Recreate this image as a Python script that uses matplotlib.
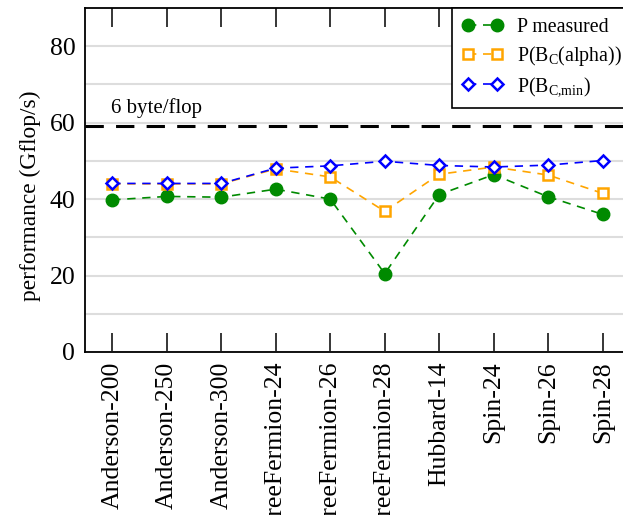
import numpy as np
import matplotlib
matplotlib.use("Agg")
import matplotlib.pyplot as plt

plt.rcParams['font.family'] = ['Liberation Serif', 'DejaVu Serif']
plt.rcParams['mathtext.fontset'] = 'custom'
plt.rcParams['mathtext.rm'] = 'Liberation Serif'
plt.rcParams['mathtext.it'] = 'Liberation Serif'

# === data ===
cases = ["Anderson-200", "Anderson-250", "Anderson-300", "FreeFermion-24",
         "FreeFermion-26", "FreeFermion-28", "Hubbard-14", "Spin-24",
         "Spin-26", "Spin-28"]
p_measured = [39.8, 40.7, 40.5, 42.6, 40.0, 20.5, 41.2, 46.4, 40.6, 36.0]
p_bc_alpha = [44.0, 44.0, 44.0, 47.9, 45.8, 36.8, 46.5, 48.4, 46.3, 41.5]
p_bc_min = [44.1, 44.1, 44.1, 48.1, 48.7, 49.9, 48.8, 48.4, 48.9, 50.1]
roofline = 59.0
roofline_label = "6 byte/flop"

x = np.arange(len(cases))

fig = plt.figure(figsize=(6.23, 5.15), dpi=100)
# right spine sits just outside the picture, as in the reference
ax = fig.add_axes([85/623, 1-352/515, 545/623, 344/515])

ax.plot(x, p_measured, '--o', color='#008a00', lw=1.2, ms=9,
        dashes=(5, 4), label='P measured')
ax.plot(x, p_bc_alpha, '--s', color='#ffa500', lw=1.2, ms=7.5, mfc='white',
        mew=1.8, dashes=(5, 4), label=r'P(B$_\mathrm{C}$(alpha))')
ax.plot(x, p_bc_min, '--D', color='#0000ff', lw=1.2, ms=6.5, mfc='white',
        mew=1.8, dashes=(5, 4), label=r'P(B$_\mathrm{C{,}min}$)')

ax.axhline(roofline, color='black', lw=2.2, dashes=(6, 4), zorder=1)
ax.text(-0.02, roofline + 4.8, roofline_label, fontsize=15, va='center', ha='left')

ax.set_xlim(-0.5, 9.5)
ax.set_ylim(0, 90)
ax.set_yticks([0, 20, 40, 60, 80])
ax.set_yticks(np.arange(10, 90, 20), minor=True)
ax.grid(axis='y', which='both', color='#dddddd', lw=1.5, zorder=0)
ax.set_axisbelow(True)

ax.set_xticks(x)
ax.set_xticklabels(cases, rotation=90, fontsize=18.5)
ax.tick_params(axis='x', direction='in', length=13.7, width=1.1, top=True,
               pad=7, color='black')
ax.tick_params(axis='y', which='both', length=0, labelsize=18.5, pad=7)
ax.set_ylabel("performance (Gflop/s)", fontsize=16.8)
ax.yaxis.set_label_coords(41/623, 1-196/515, transform=fig.transFigure)

for s in ax.spines.values():
    s.set_linewidth(1.3)

# legend box runs past the right edge of the picture
leg = ax.legend(loc='upper left', bbox_to_anchor=(452/623, 1-8/515, 200/623, 0),
                bbox_transform=fig.transFigure, mode='expand', fontsize=14.3,
                frameon=True, fancybox=False, edgecolor='black', framealpha=1,
                numpoints=2, handlelength=2.06, handletextpad=0.7,
                borderpad=0.5, borderaxespad=0, labelspacing=0.35)
leg.get_frame().set_linewidth(1.2)

fig.savefig("out.png", dpi=100)
